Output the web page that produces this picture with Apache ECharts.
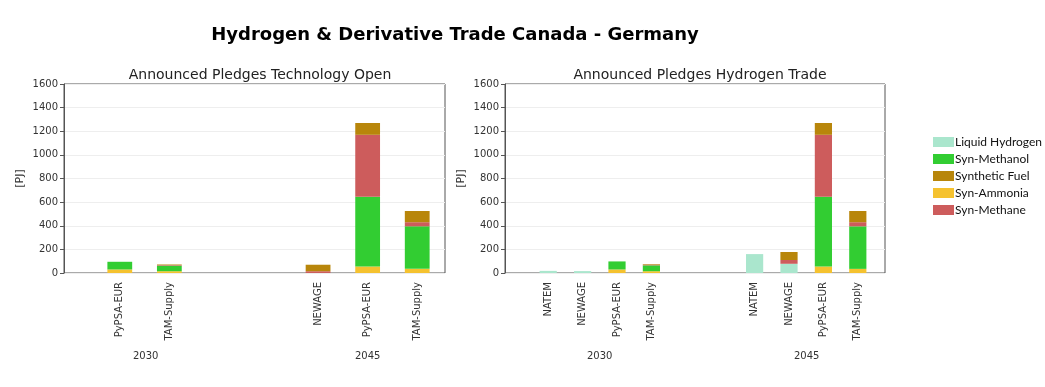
<!DOCTYPE html>
<html><head><meta charset="utf-8">
<script src="https://cdn.jsdelivr.net/npm/echarts@6/dist/echarts.min.js"></script>
<style>html,body{margin:0;padding:0;background:#fff}#c{width:1045px;height:387px}</style>
</head><body><div id="c"></div>
<script>
// ---- data ----
const seriesNames = ['Liquid Hydrogen','Syn-Ammonia','Syn-Methanol','Syn-Methane','Synthetic Fuel'];
const legendOrder = ['Liquid Hydrogen','Syn-Methanol','Synthetic Fuel','Syn-Ammonia','Syn-Methane'];
const yTicks = [0,200,400,600,800,1000,1200,1400,1600];

// Left: Announced Pledges Technology Open
const leftScen  = ['PyPSA-EUR','TAM-Supply','','','NEWAGE','PyPSA-EUR','TAM-Supply'];
const leftYear  = ['2030','2030','gap','gap','2045','2045','2045'];
const leftLH    = [0, 0, null, null, 0, 0, 0];
const leftNH3   = [30, 15, null, null, 0, 55, 35];
const leftMeOH  = [65, 47, null, null, 0, 590, 360];
const leftCH4   = [0, 5, null, null, 15, 525, 35];
const leftFuel  = [0, 5, null, null, 55, 100, 95];

// Right: Announced Pledges Hydrogen Trade
const rightScen = ['NATEM','NEWAGE','PyPSA-EUR','TAM-Supply','','','NATEM','NEWAGE','PyPSA-EUR','TAM-Supply'];
const rightYear = ['2030','2030','2030','2030','gap','gap','2045','2045','2045','2045'];
const rightLH   = [18, 16, 0, 0, null, null, 160, 78, 0, 0];
const rightNH3  = [0, 0, 30, 15, null, null, 0, 0, 55, 35];
const rightMeOH = [0, 0, 68, 50, null, null, 0, 0, 590, 360];
const rightCH4  = [0, 0, 0, 5, null, null, 0, 32, 525, 35];
const rightFuel = [0, 0, 0, 5, null, null, 0, 68, 100, 95];

const colors = {
  'Liquid Hydrogen':'#aae6cd',
  'Syn-Ammonia':'#f5c22f',
  'Syn-Methanol':'#32cd32',
  'Syn-Methane':'#cd5c5c',
  'Synthetic Fuel':'#b8860b'
};

const chart = echarts.init(document.getElementById('c'));
const tickFont = {fontFamily:'DejaVu Sans', fontSize:10, color:'#333'};

function keys(scen, year){ return scen.map((s,i)=> year[i]+'|'+s+'|'+i); }
function seriesFor(prefix, gridAxis, arrs){
  return seriesNames.map((n,k)=>({
    name:n, type:'bar', stack:prefix, xAxisIndex:gridAxis, yAxisIndex:gridAxis,
    barWidth:'50%', itemStyle:{color:colors[n]}, data:arrs[k],
    emphasis:{disabled:true}
  }));
}
function frameY(idx, showLabels){
  return {type:'value', gridIndex:idx, min:yTicks[0], max:yTicks[yTicks.length-1], interval:yTicks[1]-yTicks[0],
    axisLine:{show:true, lineStyle:{color:'#555'}},
    axisTick:{show:true, length:4, lineStyle:{color:'#555'}},
    axisLabel:Object.assign({show:showLabels, margin:6, formatter:v=>String(v)}, tickFont),
    splitLine:{show:true, lineStyle:{color:'#eeeeee', width:1}},
    name:'[PJ]', nameLocation:'middle', nameGap:38, nameRotate:90,
    nameTextStyle:{fontFamily:'DejaVu Sans', fontSize:11, color:'#333'}};
}
function barX(idx, cats){
  return {type:'category', gridIndex:idx, data:cats,
    axisLine:{show:false}, axisTick:{show:false},
    axisLabel:Object.assign({rotate:90, margin:9, interval:0,
      formatter:v=>v.split('|')[1]}, tickFont)};
}

const option = {
  animation:false,
  title:[
    {text:'Hydrogen & Derivative Trade Canada - Germany', left:450, top:21, textAlign:'center',
      textStyle:{fontFamily:'DejaVu Sans', fontWeight:'bold', fontSize:18, color:'#000'}},
    {text:'Announced Pledges Technology Open', left:255, top:63, textAlign:'center',
      textStyle:{fontFamily:'DejaVu Sans', fontWeight:'normal', fontSize:14, color:'#222'}},
    {text:'Announced Pledges Hydrogen Trade', left:695, top:63, textAlign:'center',
      textStyle:{fontFamily:'DejaVu Sans', fontWeight:'normal', fontSize:14, color:'#222'}}
  ],
  legend:{data:legendOrder, orient:'vertical', left:928, top:131, itemGap:5,
    itemWidth:21, itemHeight:10, icon:'rect',
    textStyle:{fontFamily:'Lato', fontSize:12, color:'#111', padding:[0,0,0,-4]}},
  grid:[
    {left:64, width:381, top:84, height:189, show:true, borderColor:'#555', borderWidth:1, backgroundColor:'transparent'},
    {left:95, width:347, top:84, height:189},
    {left:505, width:380, top:84, height:189, show:true, borderColor:'#555', borderWidth:1, backgroundColor:'transparent'},
    {left:531, width:344, top:84, height:189}
  ],
  xAxis:[
    {type:'value', gridIndex:0, show:false, min:0, max:1},
    barX(1, keys(leftScen, leftYear)),
    {type:'value', gridIndex:2, show:false, min:0, max:1},
    barX(3, keys(rightScen, rightYear))
  ],
  yAxis:[
    frameY(0, true),
    {type:'value', gridIndex:1, min:0, max:1600, show:false},
    frameY(2, true),
    {type:'value', gridIndex:3, min:0, max:1600, show:false}
  ],
  graphic:[
    {type:'text', left:133, top:351, style:{text:'2030', font:'10px DejaVu Sans', fill:'#333'}},
    {type:'text', left:355, top:351, style:{text:'2045', font:'10px DejaVu Sans', fill:'#333'}},
    {type:'text', left:587, top:351, style:{text:'2030', font:'10px DejaVu Sans', fill:'#333'}},
    {type:'text', left:794, top:351, style:{text:'2045', font:'10px DejaVu Sans', fill:'#333'}}
  ],
  series:[
    ...seriesFor('L', 1, [leftLH, leftNH3, leftMeOH, leftCH4, leftFuel]),
    ...seriesFor('R', 3, [rightLH, rightNH3, rightMeOH, rightCH4, rightFuel])
  ]
};
chart.setOption(option);
</script></body></html>
